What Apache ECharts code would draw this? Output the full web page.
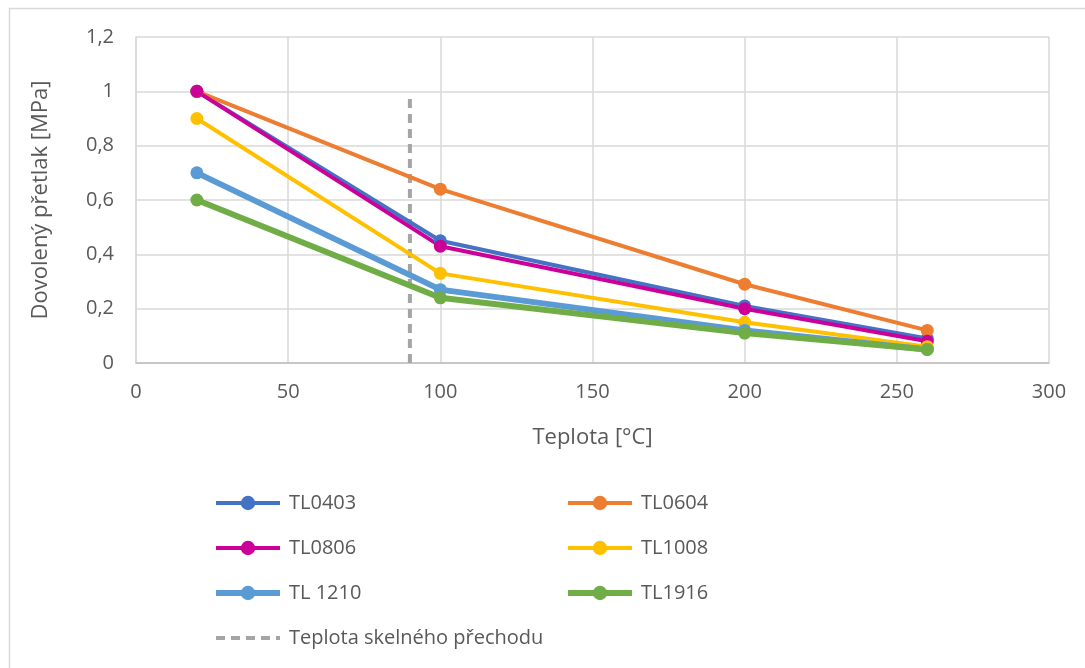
<!DOCTYPE html>
<html><head><meta charset="utf-8">
<script src="https://cdn.jsdelivr.net/npm/echarts@6/dist/echarts.min.js"></script>
<style>html,body{margin:0;padding:0;background:#fff}#c{width:1085px;height:668px}</style>
</head><body><div id="c"></div>
<script>
const xValues = [20, 100, 200, 260];
const TL0403 = [1.00, 0.45, 0.21, 0.09];
const TL0604 = [1.00, 0.64, 0.29, 0.12];
const TL0806 = [1.00, 0.43, 0.20, 0.08];
const TL1008 = [0.90, 0.33, 0.15, 0.06];
const TL1210 = [0.70, 0.27, 0.12, 0.05];
const TL1916 = [0.60, 0.24, 0.11, 0.05];
const glassX = [90, 90];
const glassY = [0, 0.98];
const glassName = 'Teplota skelného přechodu';

const seriesDefs = [
  {name: 'TL0403', data: TL0403, color: '#4472C4', w: 4},
  {name: 'TL0604', data: TL0604, color: '#ED7D31', w: 4},
  {name: 'TL0806', data: TL0806, color: '#CC0099', w: 4},
  {name: 'TL1008', data: TL1008, color: '#FFC000', w: 4},
  {name: 'TL 1210', data: TL1210, color: '#5B9BD5', w: 6},
  {name: 'TL1916', data: TL1916, color: '#70AD47', w: 6}
];
const font = '"Open Sans", "Noto Sans", sans-serif';
const txt = '#595959';

const series = seriesDefs.map(s => ({
  name: s.name, type: 'line',
  data: xValues.map((x, i) => [x, s.data[i]]),
  symbol: 'circle', symbolSize: 13,
  itemStyle: {color: s.color},
  lineStyle: {color: s.color, width: s.w},
  z: 3
}));
series.push({
  name: glassName, type: 'line',
  data: glassX.map((x, i) => [x, glassY[i]]),
  symbol: 'none',
  lineStyle: {color: '#A5A5A5', width: 4, type: [9, 6]},
  itemStyle: {color: '#A5A5A5'},
  z: 2
});

function legendItem(name) {
  if (name === glassName) {
    return {name: name, itemStyle: {opacity: 0},
      lineStyle: {width: 4, color: '#A5A5A5', type: [9, 6]}};
  }
  const d = seriesDefs.find(s => s.name === name);
  return {name: name, lineStyle: {width: d.w, color: d.color}};
}

const legendCommon = {
  orient: 'vertical', itemWidth: 64, itemHeight: 18, itemGap: 23,
  textStyle: {fontFamily: font, fontSize: 20, color: txt, lineHeight: 22, padding: [0,0,0,4]},
  padding: 0
};

const chart = echarts.init(document.getElementById('c'));
chart.setOption({
  animation: false,
  backgroundColor: '#fff',
  graphic: [{type: 'rect', shape: {x: 9.5, y: 8.5, width: 1200, height: 800},
    style: {fill: 'none', stroke: '#D9D9D9', lineWidth: 1.5}, silent: true}],
  grid: {left: 136, right: 36, top: 37, bottom: 305, containLabel: false},
  xAxis: {
    type: 'value', min: 0, max: 300, interval: 50,
    name: 'Teplota [°C]', nameLocation: 'middle', nameGap: 64,
    nameTextStyle: {fontFamily: font, fontSize: 22, color: txt},
    axisLine: {show: true, lineStyle: {color: '#BFBFBF', width: 1.5}},
    axisTick: {show: false},
    axisLabel: {fontFamily: font, fontSize: 20, color: txt, margin: 19},
    splitLine: {show: true, lineStyle: {color: '#D9D9D9', width: 1.5}}
  },
  yAxis: {
    type: 'value', min: 0, max: 1.2, interval: 0.2,
    name: 'Dovolený přetlak [MPa]', nameLocation: 'middle', nameGap: 84,
    nameTextStyle: {fontFamily: font, fontSize: 22, color: txt},
    axisLine: {show: true, lineStyle: {color: '#D9D9D9', width: 1.5}},
    axisTick: {show: false},
    axisLabel: {fontFamily: font, fontSize: 20, color: txt, margin: 22,
      formatter: v => String(Math.round(v * 10) / 10).replace('.', ',')},
    splitLine: {show: true, lineStyle: {color: '#D9D9D9', width: 1.5}}
  },
  legend: [
    Object.assign({}, legendCommon, {left: 213, top: 492,
      data: ['TL0403', 'TL0806', 'TL 1210', glassName].map(legendItem)}),
    Object.assign({}, legendCommon, {left: 565, top: 492,
      data: ['TL0604', 'TL1008', 'TL1916'].map(legendItem)})
  ],
  series: series
});
</script></body></html>
